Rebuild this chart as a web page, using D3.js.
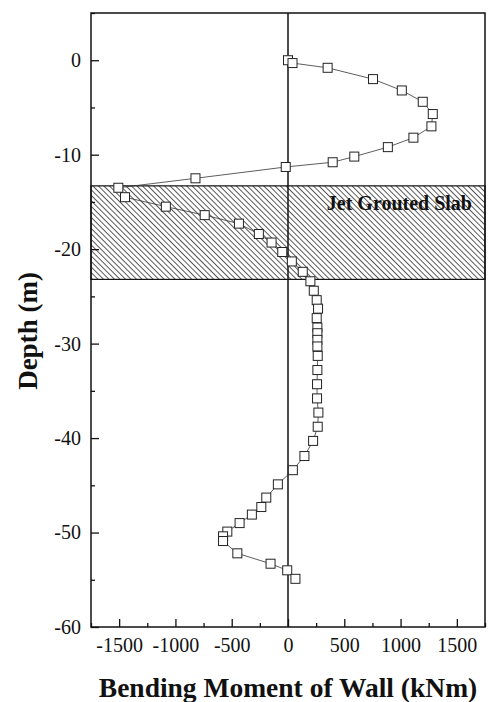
<!DOCTYPE html>
<html>
<head>
<meta charset="utf-8">
<script src="https://cdn.jsdelivr.net/npm/d3@7"></script>
<style>
  html, body { margin: 0; padding: 0; background: #fff; }
  svg { display: block; }
  svg text { font-family: "Liberation Serif", "Times New Roman", serif !important; fill: #111; }
</style>
</head>
<body>
<svg id="chart" width="489" height="702"></svg>
<script>
// Data: depth (m) and bending moment (kNm)
const depth = [0, -0.3, -0.8, -2.0, -3.2, -4.4, -5.7, -7.0, -8.2, -9.2, -10.2, -10.8, -11.3, -12.5,
  -13.5, -14.5, -15.5, -16.4, -17.3, -18.4, -19.3, -20.3, -21.3, -22.4, -23.4, -24.4, -25.4, -26.3,
  -27.3, -28.3, -28.9, -29.6, -30.3, -31.3, -32.8, -34.3, -35.8, -37.3, -38.8, -40.3, -41.9, -43.4,
  -44.9, -46.3, -47.3, -48.1, -49.0, -49.9, -50.4, -50.9, -52.2, -53.3, -54.0, -54.9];
const moment = [0, 40, 352, 755, 1011, 1197, 1286, 1274, 1114, 887, 589, 397, -20, -822,
  -1507, -1448, -1085, -740, -436, -259, -146, -51, 34, 131, 199, 229, 255, 267,
  255, 261, 261, 261, 261, 264, 261, 258, 258, 270, 264, 223, 146, 43,
  -90, -193, -237, -321, -430, -539, -577, -577, -450, -155, -7, 66];
const xTicks = [-1500, -1000, -500, 0, 500, 1000, 1500];
const yTicks = [0, -10, -20, -30, -40, -50, -60];
const slab = [-13.3, -23.2];
const slabLabel = "Jet Grouted Slab";
const xTitle = "Bending Moment of Wall (kNm)";
const yTitle = "Depth (m)";

const svg = d3.select("#chart");
const L = 91, R = 485, T = 13, B = 627;
const x = d3.scaleLinear().domain([-1750, 1750]).range([L, R]);
const y = d3.scaleLinear().domain([-60, 5]).range([B, T]);
const fmt = d => String(d); // plain hyphen-minus

// hatch pattern
const defs = svg.append("defs");
const hs = 3.9;
const pat = defs.append("pattern").attr("id", "hatch").attr("patternUnits", "userSpaceOnUse")
  .attr("width", hs).attr("height", hs).attr("patternTransform", "rotate(-45)");
pat.append("line").attr("x1", 0).attr("y1", 0).attr("x2", 0).attr("y2", hs)
  .attr("stroke", "#000").attr("stroke-width", 1.3);

// slab
svg.append("rect")
  .attr("x", L).attr("width", R - L)
  .attr("y", y(slab[0])).attr("height", y(slab[1]) - y(slab[0]))
  .attr("fill", "url(#hatch)").attr("stroke", "#111").attr("stroke-width", 1.2);

svg.append("text").attr("x", 472).attr("y", 210).attr("text-anchor", "end")
  .attr("font-size", 20).attr("font-weight", "bold").text(slabLabel);

// zero line
svg.append("line").attr("x1", x(0)).attr("x2", x(0)).attr("y1", T).attr("y2", B)
  .attr("stroke", "#111").attr("stroke-width", 1.5);

// axes (ticks inward)
const gx = svg.append("g").attr("transform", `translate(0,${B})`)
  .call(d3.axisBottom(x).tickValues(d3.range(-1750, 1751, 250)).tickSize(0).tickFormat(""));
gx.selectAll(".tick line").attr("y2", d => (d % 500 === 0 ? -8 : -4)).attr("stroke", "#111").attr("stroke-width", 1.3);
gx.select(".domain").remove();
const gxl = svg.append("g").attr("transform", `translate(0,${B})`)
  .call(d3.axisBottom(x).tickValues(xTicks).tickSize(0).tickPadding(11).tickFormat(fmt));
gxl.select(".domain").remove();
gxl.attr("font-family", null).attr("font-size", null);
gxl.selectAll("text").style("font-size", "20px").attr("fill", "#111");

const gy = svg.append("g").attr("transform", `translate(${L},0)`)
  .call(d3.axisLeft(y).tickValues(d3.range(-60, 5.1, 5)).tickSize(0).tickFormat(""));
gy.selectAll(".tick line").attr("x2", d => (d % 10 === 0 ? 8 : 4)).attr("stroke", "#111").attr("stroke-width", 1.3);
gy.select(".domain").remove();
const gyl = svg.append("g").attr("transform", `translate(${L},0)`)
  .call(d3.axisLeft(y).tickValues(yTicks).tickSize(0).tickPadding(10).tickFormat(fmt));
gyl.select(".domain").remove();
gyl.attr("font-family", null).attr("font-size", null);
gyl.selectAll("text").style("font-size", "20px").attr("fill", "#111");

// frame
svg.append("rect").attr("x", L).attr("y", T).attr("width", R - L).attr("height", B - T)
  .attr("fill", "none").attr("stroke", "#111").attr("stroke-width", 1.5);

// line + markers
const pts = depth.map((d, i) => [moment[i], d]);
svg.append("path").datum(pts)
  .attr("d", d3.line().x(d => x(d[0])).y(d => y(d[1])))
  .attr("fill", "none").attr("stroke", "#333").attr("stroke-width", 0.8);
const s = 9;
svg.append("g").selectAll("rect").data(pts).join("rect")
  .attr("x", d => x(d[0]) - s / 2).attr("y", d => y(d[1]) - s / 2)
  .attr("width", s).attr("height", s)
  .attr("fill", "#fff").attr("stroke", "#222").attr("stroke-width", 1);

// titles
svg.append("text").attr("x", 288).attr("y", 697).attr("text-anchor", "middle")
  .attr("font-size", 27.5).attr("font-weight", "bold").text(xTitle);
svg.append("text").attr("transform", "translate(37,331) rotate(-90)").attr("text-anchor", "middle")
  .attr("font-size", 27).attr("font-weight", "bold").text(yTitle);
</script>
</body>
</html>
